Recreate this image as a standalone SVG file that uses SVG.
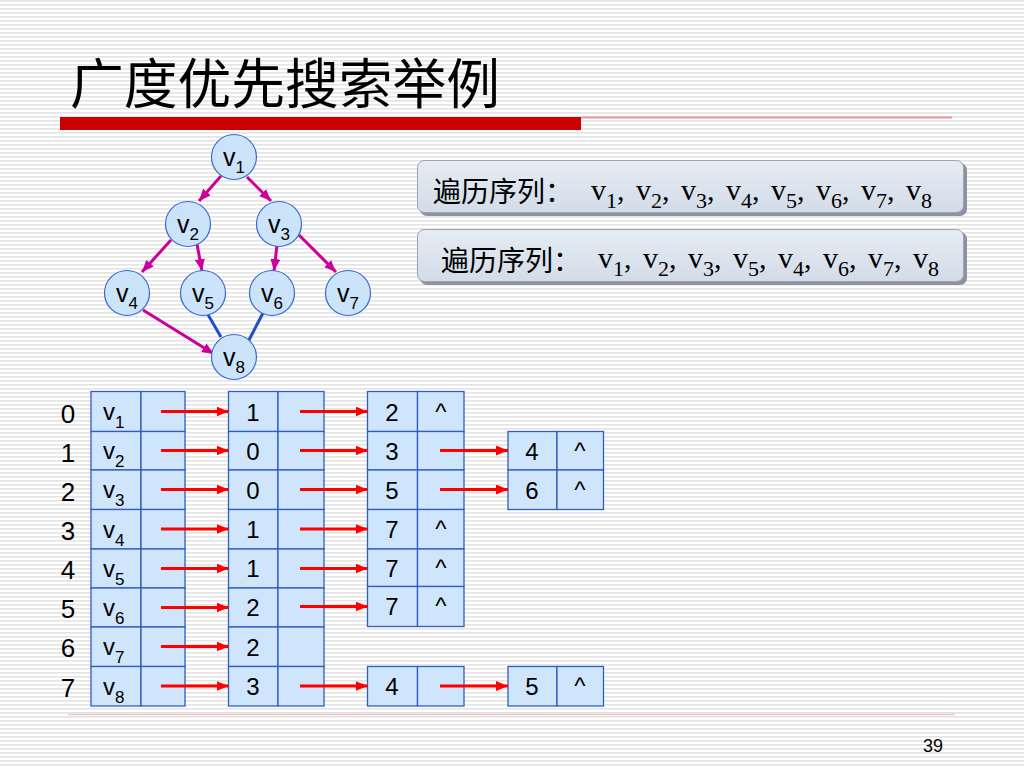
<svg xmlns="http://www.w3.org/2000/svg" width="1024" height="768" viewBox="0 0 1024 768">
<defs>
<pattern id="stripes" width="10" height="4" patternUnits="userSpaceOnUse"><rect width="10" height="4" fill="#ffffff"/><rect width="10" height="1.6" fill="#e4e4e4"/></pattern>
<linearGradient id="boxg" x1="0" y1="0" x2="0" y2="1"><stop offset="0" stop-color="#e6ecf4"/><stop offset="1" stop-color="#d2dce8"/></linearGradient>
<marker id="ahr" markerUnits="userSpaceOnUse" markerWidth="12" markerHeight="10" refX="12" refY="5" orient="auto"><path d="M0,0 L12,5 L0,10 z" fill="#ff0000"/></marker>
<marker id="ahm" markerUnits="userSpaceOnUse" markerWidth="12" markerHeight="10" refX="12" refY="5" orient="auto"><path d="M0,0 L12,5 L0,10 z" fill="#cc0099"/></marker>
</defs>
<style>
.cell{fill:#cfe5fb;stroke:#2e5cbf;stroke-width:1.3}
.node circle{fill:#cce4fa;stroke:#3a68cc;stroke-width:1.2}
.t{font-family:"Liberation Sans",Arial,sans-serif;font-size:24px;fill:#000}
.it{font-family:"Liberation Sans",Arial,sans-serif;font-size:26px;fill:#000}
.nt{font-family:"Liberation Sans",Arial,sans-serif;font-size:25px;fill:#000}
.sub{font-size:17px}
.ra{stroke:#ff0000;stroke-width:3;marker-end:url(#ahr)}
.ma{stroke:#cc0099;stroke-width:3;marker-end:url(#ahm)}
.bl{stroke:#1f4fc0;stroke-width:3}
.box{fill:url(#boxg);stroke:#9aa4b2;stroke-width:1}
.shadow{fill:#8d939c}
.cjk{font-family:"Noto Sans CJK SC",sans-serif;font-size:28px;fill:#000}
.seq{font-family:"Liberation Serif","Times New Roman",serif;font-size:30px;fill:#000}
.ss{font-size:22px}
</style>
<rect width="1024" height="768" fill="url(#stripes)"/>

<!-- title -->
<text x="70" y="104" font-family="Noto Sans CJK SC, sans-serif" font-size="54" textLength="430" lengthAdjust="spacingAndGlyphs" fill="#000">广度优先搜索举例</text>
<rect x="60" y="117" width="521" height="13" fill="#cc0000"/>
<rect x="581" y="116.5" width="371" height="2" fill="#e69a9a"/>
<line x1="68" y1="714.5" x2="955" y2="714.5" stroke="#f0c4c4" stroke-width="1.5"/>
<text x="923" y="752" font-family="Liberation Sans, Arial, sans-serif" font-size="18" fill="#000">39</text>

<!-- sequence boxes -->
<g id="seq1">
<rect class="shadow" x="420" y="163" width="547" height="53" rx="7"/>
<rect class="box" x="417.5" y="160.5" width="546" height="52" rx="7"/>
<text class="cjk" x="433" y="202">遍历序列：</text>
<text class="seq" y="200"><tspan x="591">v</tspan><tspan class="ss" dy="8">1</tspan><tspan dy="-8">,</tspan><tspan x="636">v</tspan><tspan class="ss" dy="8">2</tspan><tspan dy="-8">,</tspan><tspan x="681">v</tspan><tspan class="ss" dy="8">3</tspan><tspan dy="-8">,</tspan><tspan x="726">v</tspan><tspan class="ss" dy="8">4</tspan><tspan dy="-8">,</tspan><tspan x="771">v</tspan><tspan class="ss" dy="8">5</tspan><tspan dy="-8">,</tspan><tspan x="816">v</tspan><tspan class="ss" dy="8">6</tspan><tspan dy="-8">,</tspan><tspan x="861">v</tspan><tspan class="ss" dy="8">7</tspan><tspan dy="-8">,</tspan><tspan x="906">v</tspan><tspan class="ss" dy="8">8</tspan></text>
</g>
<g id="seq2">
<rect class="shadow" x="420" y="232" width="547" height="53" rx="7"/>
<rect class="box" x="417.5" y="229.5" width="546" height="52" rx="7"/>
<text class="cjk" x="441" y="271">遍历序列：</text>
<text class="seq" y="268"><tspan x="598">v</tspan><tspan class="ss" dy="8">1</tspan><tspan dy="-8">,</tspan><tspan x="643">v</tspan><tspan class="ss" dy="8">2</tspan><tspan dy="-8">,</tspan><tspan x="688">v</tspan><tspan class="ss" dy="8">3</tspan><tspan dy="-8">,</tspan><tspan x="733">v</tspan><tspan class="ss" dy="8">5</tspan><tspan dy="-8">,</tspan><tspan x="778">v</tspan><tspan class="ss" dy="8">4</tspan><tspan dy="-8">,</tspan><tspan x="823">v</tspan><tspan class="ss" dy="8">6</tspan><tspan dy="-8">,</tspan><tspan x="868">v</tspan><tspan class="ss" dy="8">7</tspan><tspan dy="-8">,</tspan><tspan x="913">v</tspan><tspan class="ss" dy="8">8</tspan></text>
</g>

<!-- graph edges -->
<g id="edges">
<line class="bl" x1="207" y1="313" x2="221" y2="337"/>
<line class="bl" x1="263" y1="313" x2="249" y2="340"/>
<line class="ma" x1="221" y1="176" x2="199" y2="201"/>
<line class="ma" x1="247" y1="177" x2="271" y2="201"/>
<line class="ma" x1="171" y1="240" x2="142" y2="272"/>
<line class="ma" x1="197" y1="244" x2="202" y2="271"/>
<line class="ma" x1="277" y1="245" x2="274" y2="271"/>
<line class="ma" x1="299" y1="235" x2="336" y2="272"/>
<line class="ma" x1="143" y1="310" x2="214" y2="354"/>
</g>

<!-- graph nodes -->
<g id="n1" class="node"><circle cx="234" cy="157" r="22.5"/><text class="nt" x="234" y="166" text-anchor="middle">v<tspan class="sub" dy="7">1</tspan></text></g>
<g id="n2" class="node"><circle cx="188" cy="224" r="22.5"/><text class="nt" x="188" y="233" text-anchor="middle">v<tspan class="sub" dy="7">2</tspan></text></g>
<g id="n3" class="node"><circle cx="279" cy="224" r="22.5"/><text class="nt" x="279" y="233" text-anchor="middle">v<tspan class="sub" dy="7">3</tspan></text></g>
<g id="n4" class="node"><circle cx="127" cy="293" r="22.5"/><text class="nt" x="127" y="302" text-anchor="middle">v<tspan class="sub" dy="7">4</tspan></text></g>
<g id="n5" class="node"><circle cx="203" cy="293" r="22.5"/><text class="nt" x="203" y="302" text-anchor="middle">v<tspan class="sub" dy="7">5</tspan></text></g>
<g id="n6" class="node"><circle cx="272" cy="293" r="22.5"/><text class="nt" x="272" y="302" text-anchor="middle">v<tspan class="sub" dy="7">6</tspan></text></g>
<g id="n7" class="node"><circle cx="348" cy="293" r="22.5"/><text class="nt" x="348" y="302" text-anchor="middle">v<tspan class="sub" dy="7">7</tspan></text></g>
<g id="n8" class="node"><circle cx="234" cy="357" r="22.5"/><text class="nt" x="234" y="366" text-anchor="middle">v<tspan class="sub" dy="7">8</tspan></text></g>

<!-- index numbers -->
<g id="indices" class="it" text-anchor="middle">
<text x="68" y="423">0</text>
<text x="68" y="462">1</text>
<text x="68" y="501">2</text>
<text x="68" y="540">3</text>
<text x="68" y="579">4</text>
<text x="68" y="618">5</text>
<text x="68" y="657">6</text>
<text x="68" y="697">7</text>
</g>

<!-- vertex table -->
<g id="vtable">
<rect class="cell" x="91" y="391.5" width="50" height="40"/><rect class="cell" x="141" y="391.5" width="44" height="40"/>
<rect class="cell" x="91" y="431.5" width="50" height="38.5"/><rect class="cell" x="141" y="431.5" width="44" height="38.5"/>
<rect class="cell" x="91" y="470" width="50" height="39.5"/><rect class="cell" x="141" y="470" width="44" height="39.5"/>
<rect class="cell" x="91" y="509.5" width="50" height="39.5"/><rect class="cell" x="141" y="509.5" width="44" height="39.5"/>
<rect class="cell" x="91" y="549" width="50" height="39"/><rect class="cell" x="141" y="549" width="44" height="39"/>
<rect class="cell" x="91" y="588" width="50" height="39"/><rect class="cell" x="141" y="588" width="44" height="39"/>
<rect class="cell" x="91" y="627" width="50" height="39.5"/><rect class="cell" x="141" y="627" width="44" height="39.5"/>
<rect class="cell" x="91" y="666.5" width="50" height="39.5"/><rect class="cell" x="141" y="666.5" width="44" height="39.5"/>
<g class="t">
<text x="103" y="420">v<tspan class="sub" dy="8">1</tspan></text>
<text x="103" y="459">v<tspan class="sub" dy="8">2</tspan></text>
<text x="103" y="498">v<tspan class="sub" dy="8">3</tspan></text>
<text x="103" y="538">v<tspan class="sub" dy="8">4</tspan></text>
<text x="103" y="577">v<tspan class="sub" dy="8">5</tspan></text>
<text x="103" y="616">v<tspan class="sub" dy="8">6</tspan></text>
<text x="103" y="655">v<tspan class="sub" dy="8">7</tspan></text>
<text x="103" y="695">v<tspan class="sub" dy="8">8</tspan></text>
</g>
</g>

<!-- second column -->
<g id="col2">
<rect class="cell" x="228.5" y="391.5" width="49.5" height="40"/><rect class="cell" x="278" y="391.5" width="46" height="40"/>
<rect class="cell" x="228.5" y="431.5" width="49.5" height="38.5"/><rect class="cell" x="278" y="431.5" width="46" height="38.5"/>
<rect class="cell" x="228.5" y="470" width="49.5" height="39.5"/><rect class="cell" x="278" y="470" width="46" height="39.5"/>
<rect class="cell" x="228.5" y="509.5" width="49.5" height="39.5"/><rect class="cell" x="278" y="509.5" width="46" height="39.5"/>
<rect class="cell" x="228.5" y="549" width="49.5" height="39"/><rect class="cell" x="278" y="549" width="46" height="39"/>
<rect class="cell" x="228.5" y="588" width="49.5" height="39"/><rect class="cell" x="278" y="588" width="46" height="39"/>
<rect class="cell" x="228.5" y="627" width="49.5" height="39.5"/><rect class="cell" x="278" y="627" width="46" height="39.5"/>
<rect class="cell" x="228.5" y="666.5" width="49.5" height="39.5"/><rect class="cell" x="278" y="666.5" width="46" height="39.5"/>
<g class="t" text-anchor="middle">
<text x="253" y="421">1</text>
<text x="253" y="460">0</text>
<text x="253" y="499">0</text>
<text x="253" y="538">1</text>
<text x="253" y="577">1</text>
<text x="253" y="616">2</text>
<text x="253" y="656">2</text>
<text x="253" y="695">3</text>
</g>
</g>

<!-- third column -->
<g id="col3">
<rect class="cell" x="367.5" y="391.5" width="50" height="40"/><rect class="cell" x="417.5" y="391.5" width="46.5" height="40"/>
<rect class="cell" x="367.5" y="431.5" width="50" height="38.5"/><rect class="cell" x="417.5" y="431.5" width="46.5" height="38.5"/>
<rect class="cell" x="367.5" y="470" width="50" height="39.5"/><rect class="cell" x="417.5" y="470" width="46.5" height="39.5"/>
<rect class="cell" x="367.5" y="509.5" width="50" height="39.5"/><rect class="cell" x="417.5" y="509.5" width="46.5" height="39.5"/>
<rect class="cell" x="367.5" y="549" width="50" height="37.5"/><rect class="cell" x="417.5" y="549" width="46.5" height="37.5"/>
<rect class="cell" x="367.5" y="586.5" width="50" height="40"/><rect class="cell" x="417.5" y="586.5" width="46.5" height="40"/>
<rect class="cell" x="367.5" y="666.5" width="50" height="39.5"/><rect class="cell" x="417.5" y="666.5" width="46.5" height="39.5"/>
<g class="t" text-anchor="middle">
<text x="392" y="421">2</text><text x="441" y="420">^</text>
<text x="392" y="460">3</text>
<text x="392" y="499">5</text>
<text x="392" y="538">7</text><text x="441" y="537">^</text>
<text x="392" y="577">7</text><text x="441" y="576">^</text>
<text x="392" y="615">7</text><text x="441" y="614">^</text>
<text x="392" y="695">4</text>
</g>
</g>

<!-- fourth column -->
<g id="col4">
<rect class="cell" x="508" y="431.5" width="49" height="38.5"/><rect class="cell" x="557" y="431.5" width="46.5" height="38.5"/>
<rect class="cell" x="508" y="470" width="49" height="39.5"/><rect class="cell" x="557" y="470" width="46.5" height="39.5"/>
<rect class="cell" x="508" y="666.5" width="49" height="39.5"/><rect class="cell" x="557" y="666.5" width="46.5" height="39.5"/>
<g class="t" text-anchor="middle">
<text x="532" y="460">4</text><text x="580" y="459">^</text>
<text x="532" y="499">6</text><text x="580" y="498">^</text>
<text x="532" y="695">5</text><text x="580" y="694">^</text>
</g>
</g>

<!-- pointer arrows -->
<g id="pointers">
<line class="ra" x1="161" y1="411.5" x2="228.5" y2="411.5"/>
<line class="ra" x1="161" y1="450.5" x2="228.5" y2="450.5"/>
<line class="ra" x1="161" y1="489.5" x2="228.5" y2="489.5"/>
<line class="ra" x1="161" y1="529" x2="228.5" y2="529"/>
<line class="ra" x1="161" y1="568.5" x2="228.5" y2="568.5"/>
<line class="ra" x1="161" y1="607.5" x2="228.5" y2="607.5"/>
<line class="ra" x1="161" y1="646.5" x2="228.5" y2="646.5"/>
<line class="ra" x1="161" y1="686" x2="228.5" y2="686"/>
<line class="ra" x1="300" y1="411.5" x2="367.5" y2="411.5"/>
<line class="ra" x1="300" y1="450.5" x2="367.5" y2="450.5"/>
<line class="ra" x1="300" y1="489.5" x2="367.5" y2="489.5"/>
<line class="ra" x1="300" y1="529" x2="367.5" y2="529"/>
<line class="ra" x1="300" y1="568.5" x2="367.5" y2="568.5"/>
<line class="ra" x1="300" y1="606.5" x2="367.5" y2="606.5"/>
<line class="ra" x1="300" y1="686" x2="367.5" y2="686"/>
<line class="ra" x1="440" y1="450.5" x2="508" y2="450.5"/>
<line class="ra" x1="440" y1="489.5" x2="508" y2="489.5"/>
<line class="ra" x1="440" y1="686" x2="508" y2="686"/>
</g>
</svg>
